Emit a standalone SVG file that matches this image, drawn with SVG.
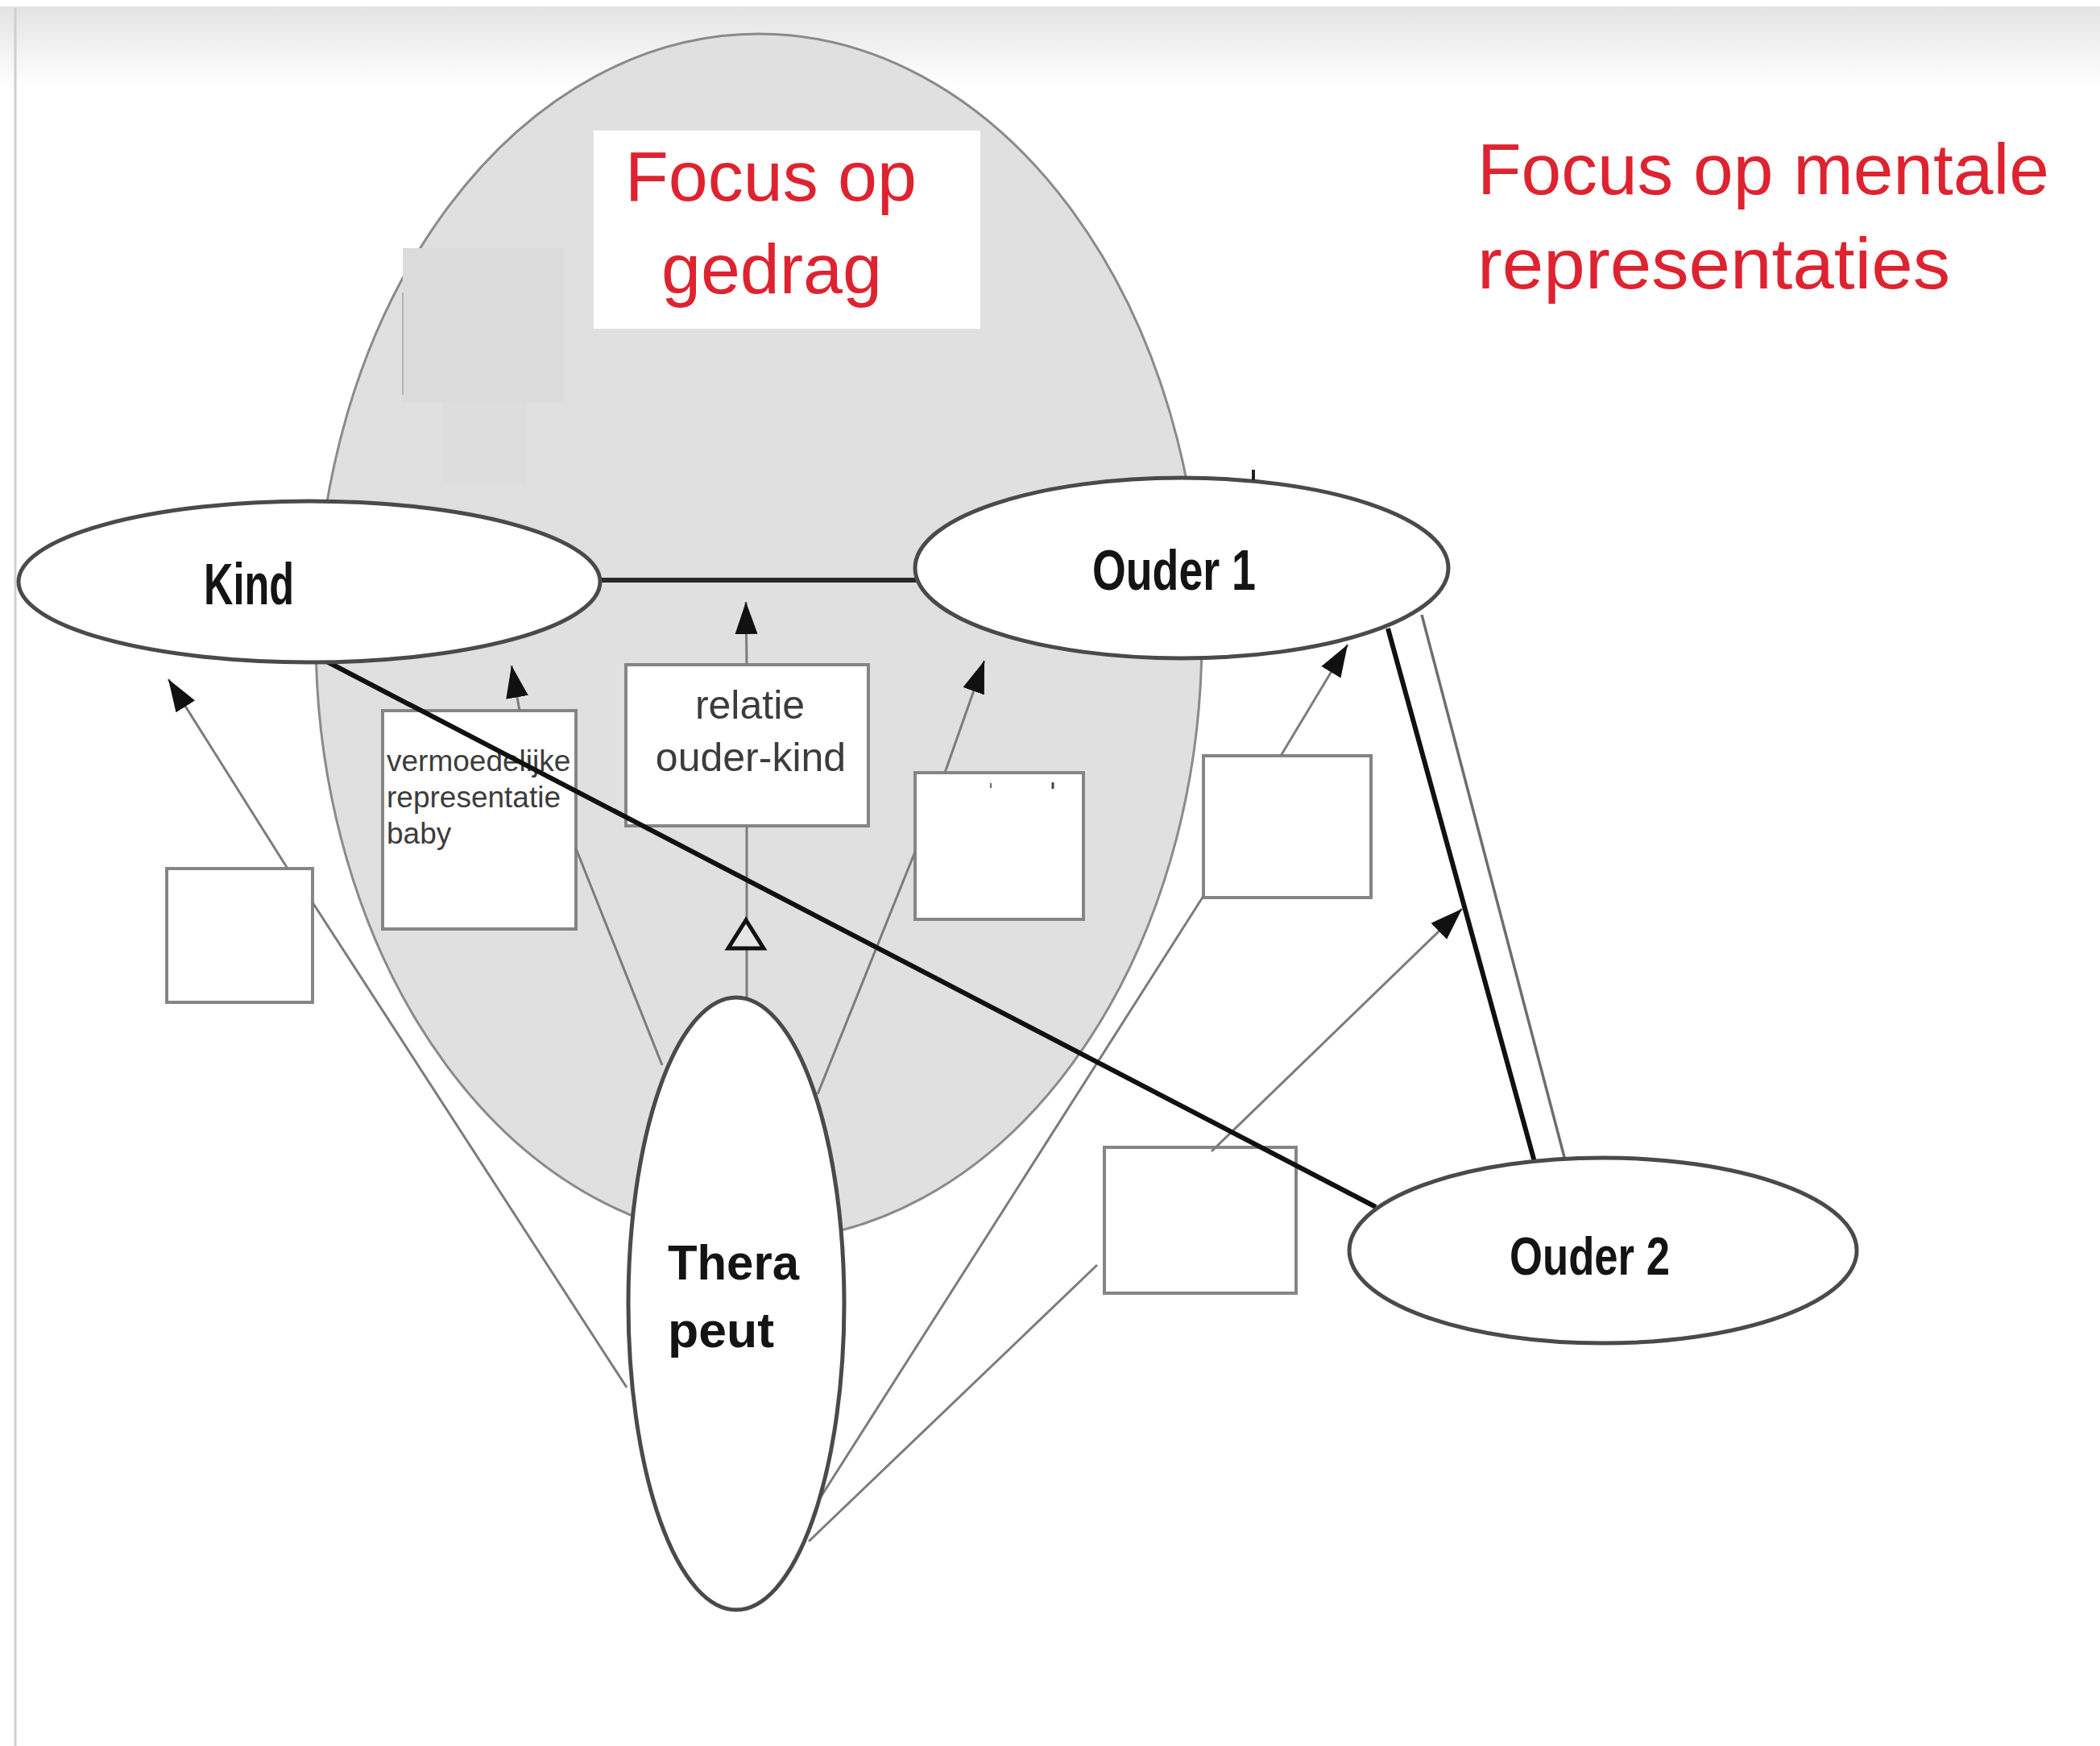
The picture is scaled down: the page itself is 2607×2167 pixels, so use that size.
<svg xmlns="http://www.w3.org/2000/svg" width="2607" height="2167" viewBox="0 0 2607 2167">
  <defs>
    <linearGradient id="topband" x1="0" y1="0" x2="0" y2="1">
      <stop offset="0" stop-color="#e3e3e3"/>
      <stop offset="1" stop-color="#ffffff"/>
    </linearGradient>
    <marker id="ah" markerUnits="userSpaceOnUse" markerWidth="42" markerHeight="32" refX="40" refY="15" orient="auto">
      <path d="M0,1 L40,15 L0,29 Z" fill="#111"/>
    </marker>
    <style>
      .node-ell { fill: #ffffff; stroke: #4a4a4a; stroke-width: 5; }
      .box { fill: #ffffff; stroke: #858585; stroke-width: 4; }
      .thin { fill: none; stroke: #7c7c7c; stroke-width: 3; }
      .arrow { fill: none; stroke: #7c7c7c; stroke-width: 3; marker-end: url(#ah); }
      .thick { fill: none; stroke: #111; stroke-width: 6; }
      .lbl { font-family: "Liberation Sans", Arial, sans-serif; font-weight: bold; fill: #141414; }
      .red { font-family: "Liberation Sans", Arial, sans-serif; fill: #de2330; }
      .small { font-family: "Liberation Sans", Arial, sans-serif; fill: #3c3c3c; }
    </style>
  </defs>

  <!-- background -->
  <rect x="0" y="0" width="2607" height="2167" fill="#ffffff"/>
  <rect x="0" y="8" width="2607" height="100" fill="url(#topband)"/>
  <line x1="19" y1="10" x2="19" y2="2167" stroke="#cfcfcf" stroke-width="3"/>

  <!-- focus area -->
  <g id="focus-gedrag-area">
    <ellipse cx="942" cy="791" rx="550" ry="749" fill="#e0e0e0" stroke="#8a8a8a" stroke-width="3"/>
    <rect x="500" y="308" width="200" height="192" fill="#dcdcdc"/>
    <rect x="550" y="500" width="103" height="100" fill="#dddddd"/>
    <line x1="500" y1="363" x2="500" y2="490" stroke="#b5b5b5" stroke-width="2"/>
  </g>

  <g id="label-focus-gedrag">
    <rect x="737" y="162" width="480" height="246" fill="#ffffff"/>
    <text class="red" x="957" y="249" font-size="88" text-anchor="middle">Focus op</text>
    <text class="red" x="958" y="364" font-size="88" text-anchor="middle">gedrag</text>
  </g>

  <g id="label-focus-mentaal">
    <text class="red" x="1834" y="241" font-size="89" textLength="710" lengthAdjust="spacingAndGlyphs">Focus op mentale</text>
    <text class="red" x="1834" y="358" font-size="89" textLength="587" lengthAdjust="spacingAndGlyphs">representaties</text>
  </g>

  <!-- boxes -->
  <g id="box-left">
    <rect class="box" x="207" y="1078" width="181" height="166"/>
  </g>
  <g id="box-vermoedelijk">
    <rect class="box" x="475" y="882" width="240" height="271"/>
    <text class="small" x="480" y="957" font-size="37">vermoedelijke</text>
    <text class="small" x="480" y="1002" font-size="37">representatie</text>
    <text class="small" x="480" y="1047" font-size="37">baby</text>
  </g>
  <g id="box-relatie">
    <rect class="box" x="777" y="825" width="301" height="200"/>
    <text class="small" x="931" y="892" font-size="50" text-anchor="middle">relatie</text>
    <text class="small" x="932" y="957" font-size="50" text-anchor="middle">ouder-kind</text>
  </g>
  <g id="box-mid">
    <rect class="box" x="1136" y="959" width="209" height="182"/>
    <line x1="1230" y1="972" x2="1230" y2="978" stroke="#666" stroke-width="2"/>
    <line x1="1307" y1="971" x2="1307" y2="979" stroke="#444" stroke-width="3"/>
  </g>
  <g id="box-right">
    <rect class="box" x="1494" y="938" width="208" height="176"/>
  </g>
  <g id="box-lowright">
    <rect class="box" x="1371" y="1424" width="238" height="181"/>
  </g>

  <!-- connectors -->
  <g id="connectors">
    <!-- arrows from boxes -->
    <line class="arrow" x1="357" y1="1078" x2="209" y2="843"/>
    <line class="arrow" x1="645" y1="882" x2="635" y2="826"/>
    <line class="arrow" x1="927" y1="825" x2="926" y2="747"/>
    <line class="arrow" x1="1173" y1="959" x2="1222" y2="820"/>
    <line class="arrow" x1="1590" y1="938" x2="1673" y2="800"/>
    <line class="arrow" x1="1504" y1="1429" x2="1815" y2="1128"/>
    <!-- therapeut to boxes -->
    <line class="thin" x1="388" y1="1120" x2="778" y2="1722"/>
    <line class="thin" x1="715" y1="1053" x2="822" y2="1322"/>
    <line class="thin" x1="927" y1="1025" x2="927" y2="1238"/>
    <polygon points="926,1142 904,1177 948,1177" fill="#e6e6e6" stroke="#111" stroke-width="5" stroke-linejoin="miter"/>
    <line class="thin" x1="1136" y1="1057" x2="1015" y2="1358"/>
    <line class="thin" x1="1494" y1="1112" x2="1015" y2="1864"/>
    <line class="thin" x1="1362" y1="1570" x2="1004" y2="1913"/>
    <!-- relations between persons -->
    <line x1="744" y1="720" x2="1139" y2="720" stroke="#2a2a2a" stroke-width="6"/>
    <line class="thick" x1="396" y1="816" x2="1708" y2="1498"/>
    <line class="thick" x1="1723" y1="780" x2="1905" y2="1442"/>
    <line x1="1765" y1="763" x2="1943" y2="1440" stroke="#6e6e6e" stroke-width="3.5"/>
  </g>

  <!-- person nodes -->
  <g id="kind">
    <ellipse class="node-ell" cx="384" cy="722" rx="361" ry="100"/>
    <text class="lbl" x="253" y="750" font-size="72" textLength="112" lengthAdjust="spacingAndGlyphs">Kind</text>
  </g>
  <g id="ouder1">
    <ellipse class="node-ell" cx="1467" cy="705" rx="331" ry="112"/>
    <line x1="1556" y1="583" x2="1556" y2="596" stroke="#222" stroke-width="4"/>
    <text class="lbl" x="1356" y="732" font-size="71" textLength="203" lengthAdjust="spacingAndGlyphs">Ouder 1</text>
  </g>
  <g id="ouder2">
    <ellipse class="node-ell" cx="1990" cy="1552" rx="315" ry="115"/>
    <text class="lbl" x="1874" y="1582" font-size="67" textLength="199" lengthAdjust="spacingAndGlyphs">Ouder 2</text>
  </g>
  <g id="therapeut">
    <ellipse class="node-ell" cx="914" cy="1618" rx="134" ry="380" stroke="#5a5a5a" stroke-width="4"/>
    <text class="lbl" x="829" y="1588" font-size="62" textLength="163" lengthAdjust="spacingAndGlyphs" fill="#1c1622">Thera</text>
    <text class="lbl" x="829" y="1672" font-size="62" textLength="132" lengthAdjust="spacingAndGlyphs" fill="#1c1622">peut</text>
  </g>
</svg>
